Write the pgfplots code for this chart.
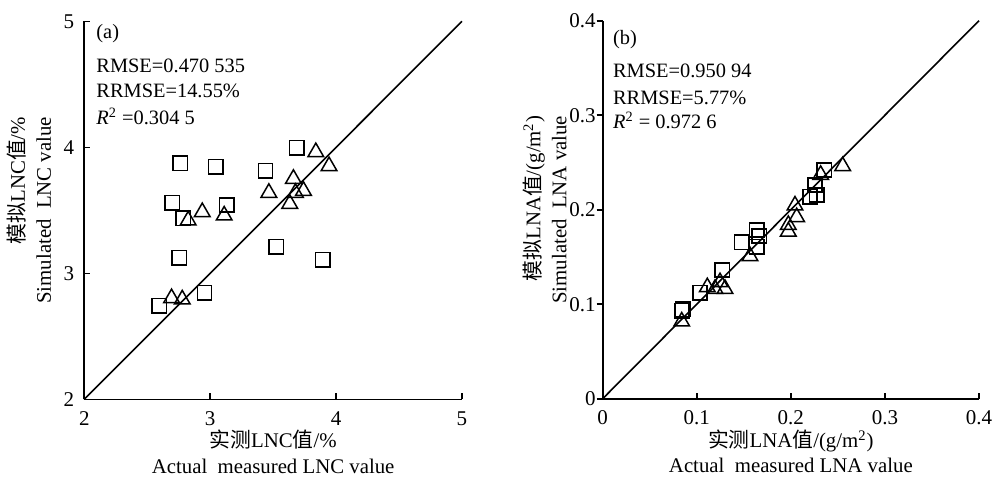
\documentclass[border=0pt]{standalone}
\usepackage{fontspec}
\setmainfont{Liberation Serif}
\newfontfamily\cjk{Noto Sans CJK SC}
\usepackage{pgfplots}
\pgfplotsset{compat=1.18}

\pgfplotsset{
  panel/.style={
    scale only axis,
    height=189pt,
    axis x line=bottom, axis y line=left,
    axis line style={-, line width=0.8pt},
    tick align=inside,
    major tick length=3pt,
    tick style={line width=0.8pt, black},
    /pgf/number format/assume math mode=true,
    ticklabel style={font=\fontsize{10.5}{12}\selectfont},
    xticklabel style={yshift=-2.5pt},
    scaled ticks=false,
    clip=false,
    every axis x label/.style={at={(axis description cs:0.5,-0.081)}, anchor=north,
      align=center, inner sep=0pt, font=\fontsize{10.4}{12.7}\selectfont},
    every axis y label/.style={rotate=90, anchor=south, align=right,
      inner sep=0pt, font=\fontsize{10.4}{13}\selectfont},
  },
  sq/.style={only marks, mark=square, mark size=3.6pt, mark options={line width=0.75pt, black}},
  tri/.style={only marks, mark=triangle, mark size=4.5pt, mark options={line width=0.75pt, black}},
}
\tikzset{txt/.style={anchor=west, inner sep=0pt, font=\fontsize{10.2}{12}\selectfont}}

\begin{document}
\begin{tikzpicture}
\useasboundingbox (-42.15pt,-38.85pt) rectangle (459.35pt,199.65pt);

% (a) LNC
\begin{axis}[panel,
  width=188.85pt,
  at={(0pt,0pt)}, anchor=south west,
  xmin=2, xmax=5, ymin=2, ymax=5,
  xtick={2,3,4,5}, ytick={2,3,4,5},
  yticklabel style={xshift=-1.5pt},
  xlabel={{\cjk 实测}LNC{\cjk 值}/\%\\Actual\enspace measured LNC value},
  ylabel={{\cjk 模拟}LNC{\cjk 值}/\%\\Simulated\enspace LNC value},
  ylabel style={at={(axis description cs:-0.087,0.5)}},
]
\addplot[black, line width=0.8pt] coordinates {(2,2) (5,5)};
\addplot[sq] coordinates {
  (2.762,3.873) (3.045,3.847) (2.698,3.561) (2.786,3.437) (3.130,3.542)
  (2.754,3.124) (2.595,2.741) (2.955,2.847) (3.439,3.815) (3.688,3.995)
  (3.524,3.212) (3.894,3.106)
};
\addplot[tri] coordinates {
  (3.839,3.962) (3.944,3.851) (3.661,3.750) (3.466,3.639) (3.677,3.639)
  (3.741,3.655) (3.632,3.552) (2.937,3.486) (3.111,3.459) (2.825,3.420)
  (2.693,2.803) (2.778,2.793)
};
\node[txt] at (axis cs:2.093,4.905) {(a)};
\node[txt] at (axis cs:2.093,4.645) {RMSE=0.470 535};
\node[txt] at (axis cs:2.093,4.449) {RRMSE=14.55\%};
\node[txt] at (axis cs:2.093,4.243) {\textit{R}\textsuperscript{2} =0.304 5};
\end{axis}

% (b) LNA
\begin{axis}[panel,
  width=188.15pt,
  at={(259.2pt,0.3pt)}, anchor=south west,
  xmin=0, xmax=0.4, ymin=0, ymax=0.4,
  xtick={0,0.1,0.2,0.3,0.4}, ytick={0,0.1,0.2,0.3,0.4},
  y tick style={xshift=-3pt},
  xticklabel style={/pgf/number format/fixed, /pgf/number format/precision=1},
  yticklabel style={/pgf/number format/fixed, /pgf/number format/precision=1},
  xlabel={{\cjk 实测}LNA{\cjk 值}/(g/m\textsuperscript{2})\\Actual\enspace measured LNA value},
  ylabel={{\cjk 模拟}LNA{\cjk 值}/(g/m\textsuperscript{2})\\Simulated\enspace LNA value},
  ylabel style={at={(axis description cs:-0.095,0.5)}},
]
\addplot[black, line width=0.8pt] coordinates {(0,0) (0.4,0.4)};
\addplot[sq] coordinates {
  (0.0850,0.0946) (0.0840,0.0930) (0.1034,0.1122) (0.1271,0.1362) (0.1478,0.1655)
  (0.1637,0.1785) (0.1637,0.1608) (0.1665,0.1722) (0.2204,0.2138)
  (0.2275,0.2156) (0.2257,0.2261) (0.2353,0.2420)
};
\addplot[tri] coordinates {
  (0.0840,0.0817) (0.1112,0.1180) (0.1194,0.1162) (0.1247,0.1233)
  (0.1300,0.1162) (0.1566,0.1508) (0.1973,0.1769) (0.1973,0.1839)
  (0.2062,0.1921) (0.2044,0.2045) (0.2317,0.2369) (0.2551,0.2461)
};
\node[txt] at (axis cs:0.0106,0.3796) {(b)};
\node[txt] at (axis cs:0.0106,0.3468) {RMSE=0.950 94};
\node[txt] at (axis cs:0.0106,0.3185) {RRMSE=5.77\%};
\node[txt] at (axis cs:0.0106,0.2942) {\textit{R}\textsuperscript{2} = 0.972 6};
\end{axis}
\end{tikzpicture}
\end{document}
